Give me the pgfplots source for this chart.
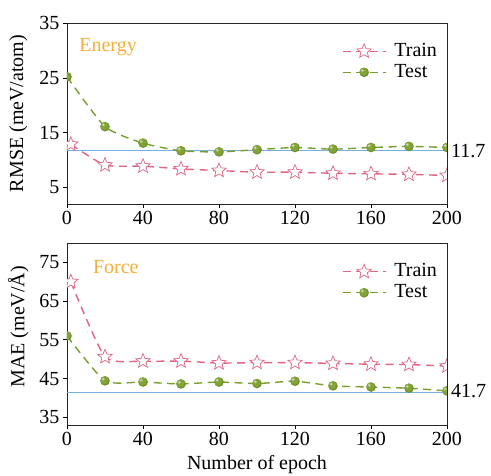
\documentclass[border=0pt]{standalone}
\usepackage{pgfplots}
\pgfplotsset{compat=1.18}
\usepackage{fontspec}
\setmainfont{Liberation Serif}

\definecolor{trainc}{RGB}{224,100,128}
\definecolor{testc}{RGB}{122,158,44}
\definecolor{titlec}{RGB}{246,174,56}
\definecolor{refc}{RGB}{116,176,228}

% open five-pointed star
\pgfdeclareplotmark{ostar}{%
  \pgfpathmoveto{\pgfpointpolar{90}{\pgfplotmarksize}}%
  \pgfpathlineto{\pgfpointpolar{126}{0.45\pgfplotmarksize}}%
  \pgfpathlineto{\pgfpointpolar{162}{\pgfplotmarksize}}%
  \pgfpathlineto{\pgfpointpolar{198}{0.45\pgfplotmarksize}}%
  \pgfpathlineto{\pgfpointpolar{234}{\pgfplotmarksize}}%
  \pgfpathlineto{\pgfpointpolar{270}{0.45\pgfplotmarksize}}%
  \pgfpathlineto{\pgfpointpolar{306}{\pgfplotmarksize}}%
  \pgfpathlineto{\pgfpointpolar{342}{0.45\pgfplotmarksize}}%
  \pgfpathlineto{\pgfpointpolar{18}{\pgfplotmarksize}}%
  \pgfpathlineto{\pgfpointpolar{54}{0.45\pgfplotmarksize}}%
  \pgfpathclose
  \pgfusepathqfillstroke
}
% green ball with highlight, no shading
\pgfdeclareplotmark{gball}{%
  \pgfsetfillcolor{testc!90!black}%
  \pgfpathcircle{\pgfpointorigin}{\pgfplotmarksize}\pgfusepathqfill
  \pgfsetfillcolor{testc!95!white}%
  \pgfpathcircle{\pgfpoint{-0.1\pgfplotmarksize}{0.1\pgfplotmarksize}}{0.85\pgfplotmarksize}\pgfusepathqfill
  \pgfsetfillcolor{testc!65!white}%
  \pgfpathcircle{\pgfpoint{-0.35\pgfplotmarksize}{0.35\pgfplotmarksize}}{0.38\pgfplotmarksize}\pgfusepathqfill
  \pgfsetfillcolor{testc!25!white}%
  \pgfpathcircle{\pgfpoint{-0.4\pgfplotmarksize}{0.4\pgfplotmarksize}}{0.17\pgfplotmarksize}\pgfusepathqfill
}

\newcommand{\fs}{\fontsize{20}{22}\selectfont}

\pgfplotsset{
  panel/.style={
    scale only axis,
    width=380pt,
    xmin=0, xmax=200,
    xtick={0,40,...,200},
    tick align=outside,
    tick pos=left,
    major tick length=4pt,
    every tick/.style={black, line width=0.7pt},
    axis line style={line width=0.9pt, black!85},
    tick label style={font=\fs},
    label style={font=\fs},
    /pgf/number format/assume math mode=true,
    legend style={draw=none, fill=none, inner sep=0pt, row sep=1pt,
      font=\fs, nodes={inner sep=1pt, text height=14pt, text depth=4pt},
      /tikz/every odd column/.append style={column sep=7pt}},
    legend cell align=left,
    legend image code/.code={%
      \draw[mark repeat=2, mark phase=2] plot coordinates {(0pt,0pt) (21.5pt,0pt) (43pt,0pt)};},
    clip marker paths=true,
  },
  refline/.style={draw=refc, color=refc, line width=1.2pt, solid, mark=none, forget plot},
  trainplot/.style={trainc, line width=1.4pt, dash pattern=on 8pt off 5.5pt,
    smooth, tension=0.35,
    mark=ostar, mark size=7.5pt,
    mark options={solid, fill=white, draw=trainc, line width=0.7pt}},
  testplot/.style={testc, line width=1.4pt, dash pattern=on 8pt off 5.5pt,
    smooth, tension=0.35,
    mark=gball, mark size=4.8pt, mark options={solid}},
}

\begin{document}
\begin{tikzpicture}
\useasboundingbox (-67pt,23pt) rectangle (424pt,-452pt);

\begin{axis}[panel,
  at={(0pt,0pt)}, anchor=north west,
  height=181pt,
  ymin=2, ymax=35,
  ytick={5,15,25,35},
  ylabel={RMSE (meV/atom)},
  ylabel style={at={(axis description cs:-0.128,0.5)}, anchor=center},
  legend style={at={(rel axis cs:0.723,0.90)}, anchor=north west},
]
\addplot[refline] coordinates {(0,11.7) (200,11.7)};
\addplot[trainplot] coordinates {
(2,12.9) (20,9.1) (40,8.9) (60,8.4) (80,8.1) (100,7.8) (120,7.8) (140,7.6) (160,7.5) (180,7.4) (200,7.2)
};
\addlegendentry{Train}
\addplot[testplot] coordinates {
(0,25.2) (20,16.1) (40,13.1) (60,11.7) (80,11.5) (100,11.9) (120,12.3) (140,12.0) (160,12.3) (180,12.5) (200,12.3)
};
\addlegendentry{Test}
\coordinate (e1) at (axis cs:200,11.7);
\coordinate (t1) at (rel axis cs:0.032,0.867);
\end{axis}
\node[anchor=west, font=\fs, inner sep=0pt, xshift=4pt] at (e1) {11.7};
\node[anchor=west, text=titlec, font=\fs, inner sep=0pt] at (t1) {Energy};

\begin{axis}[panel,
  at={(0pt,-220pt)}, anchor=north west,
  height=182pt,
  ymin=33, ymax=80,
  ytick={35,45,55,65,75},
  ylabel={MAE (meV/Å)},
  ylabel style={at={(axis description cs:-0.128,0.54)}, anchor=center},
  xlabel={Number of epoch},
  xlabel style={at={(axis description cs:0.5,-0.215)}, anchor=center},
  legend style={at={(rel axis cs:0.723,0.898)}, anchor=north west},
]
\addplot[refline] coordinates {(0,41.45) (200,41.45)};
\addplot[trainplot] coordinates {
(2,70.0) (20,50.6) (40,49.5) (60,49.5) (80,49.0) (100,49.1) (120,49.1) (140,48.9) (160,48.7) (180,48.6) (200,48.2)
};
\addlegendentry{Train}
\addplot[testplot] coordinates {
(0,56.0) (20,44.4) (40,44.1) (60,43.6) (80,44.1) (100,43.7) (120,44.3) (140,43.1) (160,42.8) (180,42.5) (200,41.8)
};
\addlegendentry{Test}
\coordinate (e2) at (axis cs:200,41.7);
\coordinate (t2) at (rel axis cs:0.068,0.867);
\end{axis}
\node[anchor=west, font=\fs, inner sep=0pt, xshift=4pt] at (e2) {41.7};
\node[anchor=west, text=titlec, font=\fs, inner sep=0pt] at (t2) {Force};
\end{tikzpicture}
\end{document}
